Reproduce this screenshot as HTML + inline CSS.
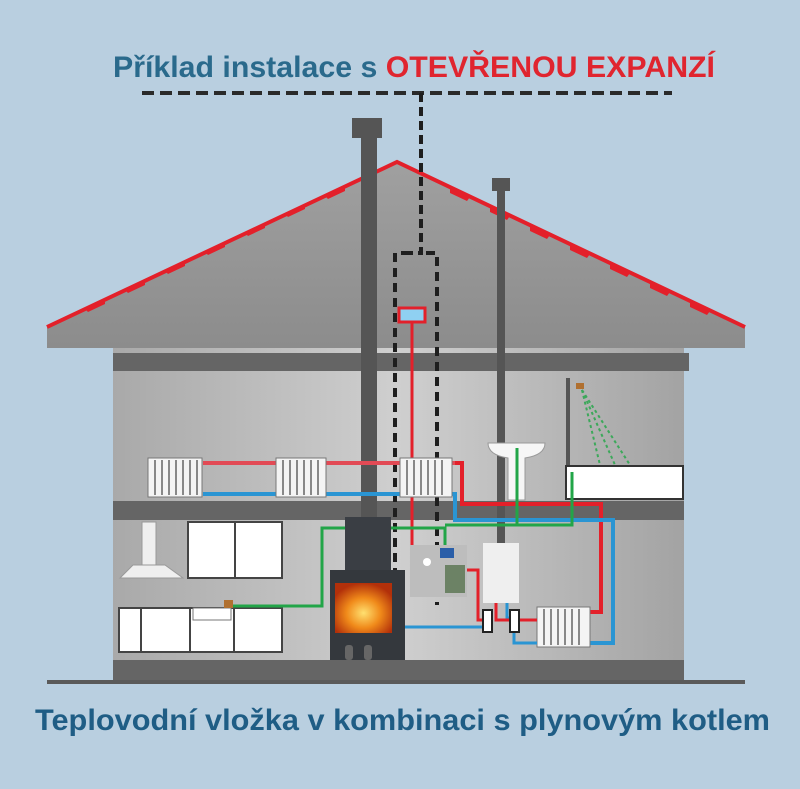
<!DOCTYPE html>
<html><head><meta charset="utf-8"><style>
html,body{margin:0;padding:0;background:#b9cfe0;}
svg{display:block;}
text{font-family:"Liberation Sans Narrow","Liberation Sans",sans-serif;font-weight:bold;}
</style></head><body>
<svg width="800" height="789" viewBox="0 0 800 789" xmlns="http://www.w3.org/2000/svg">
<defs>
<linearGradient id="wall" x1="0" y1="0" x2="1" y2="0">
<stop offset="0" stop-color="#a9a9a9"/><stop offset="0.5" stop-color="#cfcfcf"/><stop offset="1" stop-color="#a3a3a3"/>
</linearGradient>
<linearGradient id="roof" x1="0" y1="0" x2="0" y2="1">
<stop offset="0" stop-color="#a0a0a0"/><stop offset="1" stop-color="#8c8c8c"/>
</linearGradient>
<radialGradient id="fire" cx="0.5" cy="0.6" r="0.6">
<stop offset="0" stop-color="#ffe070"/><stop offset="0.5" stop-color="#f08a1a"/><stop offset="1" stop-color="#b2300a"/>
</radialGradient>
</defs>
<rect width="800" height="789" fill="#b9cfe0"/>
<text x="113" y="77" font-size="30" textLength="602" lengthAdjust="spacingAndGlyphs" fill="#2a6a8c">Příklad instalace s <tspan fill="#e0252f">OTEVŘENOU EXPANZÍ</tspan></text>
<line x1="142" y1="93" x2="672" y2="93" stroke="#2a2a2a" stroke-width="4" stroke-dasharray="12,6"/>
<polygon points="47,327 397,162 745,327 745,348 47,348" fill="url(#roof)"/>
<polyline points="47,327 397,162 745,327" fill="none" stroke="#e3202a" stroke-width="4"/>
<g fill="#e3202a">
<polygon points="85,309 105,299 105,304 88,312"/>
<polygon points="125,290 145,280 145,285 128,293"/>
<polygon points="165,271 185,261 185,266 168,274"/>
<polygon points="205,252 225,242 225,247 208,255"/>
<polygon points="245,233 265,223 265,228 248,236"/>
<polygon points="285,214 305,204 305,209 288,217"/>
<polygon points="325,196 345,186 345,191 328,199"/>
<polygon points="450,187 470,197 467,201 450,193"/>
<polygon points="490,206 510,216 507,220 490,212"/>
<polygon points="530,225 550,235 547,239 530,231"/>
<polygon points="570,244 590,254 587,258 570,250"/>
<polygon points="610,263 630,273 627,277 610,269"/>
<polygon points="650,282 670,292 667,296 650,288"/>
<polygon points="690,301 710,311 707,315 690,307"/>
</g>
<rect x="113" y="348" width="571" height="332" fill="url(#wall)"/>
<rect x="113" y="353" width="576" height="18" fill="#656565"/>
<rect x="113" y="501" width="571" height="19" fill="#656565"/>
<rect x="113" y="660" width="571" height="20" fill="#656565"/>
<rect x="47" y="680" width="698" height="4" fill="#5a5a5a"/>
<rect x="352" y="118" width="30" height="20" fill="#555"/>
<rect x="361" y="138" width="16" height="380" fill="#555"/>
<rect x="492" y="178" width="18" height="13" fill="#555"/>
<rect x="497" y="190" width="8" height="353" fill="#555"/>
<polyline points="421,93 421,253 408,253" fill="none" stroke="#1e1e1e" stroke-width="4" stroke-dasharray="9,5"/>
<polyline points="410,253 395,253 395,605" fill="none" stroke="#1e1e1e" stroke-width="4" stroke-dasharray="9,6"/>
<polyline points="426,253 437,253 437,605" fill="none" stroke="#1e1e1e" stroke-width="4" stroke-dasharray="9,6"/>
<rect x="399" y="308" width="26" height="14" fill="#8fd0f2" stroke="#e3202a" stroke-width="3"/>
<line x1="412" y1="322" x2="412" y2="545" stroke="#e3202a" stroke-width="3"/>
<line x1="203" y1="463" x2="462" y2="463" stroke="#e24a55" stroke-width="4"/>
<polyline points="455,463 462,463 462,504 601,504 601,612 590,612" fill="none" stroke="#e3202a" stroke-width="4"/>
<line x1="203" y1="494" x2="455" y2="494" stroke="#2a95d3" stroke-width="4"/>
<polyline points="452,494 455,494 455,520 613,520 613,643 590,643" fill="none" stroke="#2a95d3" stroke-width="4"/>
<g fill="#f4f4f4" stroke="#777" stroke-width="1">
<rect x="148" y="458" width="54" height="39"/>
<rect x="276" y="458" width="50" height="39"/>
<rect x="400" y="458" width="52" height="39"/>
<rect x="537" y="607" width="53" height="40"/>
</g>
<g stroke="#888" stroke-width="2">
<path d="M155 460v35M162 460v35M169 460v35M176 460v35M183 460v35M190 460v35M197 460v35"/>
<path d="M283 460v35M290 460v35M297 460v35M304 460v35M311 460v35M318 460v35"/>
<path d="M407 460v35M414 460v35M421 460v35M428 460v35M435 460v35M442 460v35"/>
<path d="M544 609v36M551 609v36M558 609v36M565 609v36M572 609v36M579 609v36"/>
</g>
<rect x="566" y="378" width="4" height="90" fill="#555"/>
<g stroke="#3ca85a" stroke-width="2" stroke-dasharray="3,3"><line x1="582" y1="390" x2="600" y2="465"/><line x1="582" y1="390" x2="615" y2="465"/><line x1="582" y1="390" x2="630" y2="465"/></g>
<rect x="576" y="383" width="8" height="6" fill="#b07030"/>
<path d="M488,443 h57 q0,12 -20,15 v42 h-17 v-42 q-20,-3 -20,-15z" fill="#f6f6f6" stroke="#999"/>
<rect x="566" y="466" width="117" height="33" fill="#fff" stroke="#333" stroke-width="2"/>
<polyline points="517,448 517,525 572,525 572,472" fill="none" stroke="#22a548" stroke-width="3"/>
<rect x="142" y="522" width="14" height="44" fill="#efefef" stroke="#999"/>
<polygon points="133,565 165,565 183,578 120,578" fill="#efefef" stroke="#999"/>
<rect x="188" y="522" width="94" height="56" fill="#fff" stroke="#444" stroke-width="2"/>
<line x1="235" y1="522" x2="235" y2="578" stroke="#444" stroke-width="2"/>
<rect x="119" y="608" width="163" height="44" fill="#fff" stroke="#444" stroke-width="2"/>
<path d="M141 608v44M190 608v44M234 608v44" stroke="#444" stroke-width="2"/>
<rect x="193" y="608" width="38" height="12" fill="#fff" stroke="#777"/>
<rect x="224" y="600" width="9" height="8" fill="#b07030"/>
<polyline points="233,606 322,606 322,528 445,528 445,545" fill="none" stroke="#22a548" stroke-width="3"/>
<line x1="445" y1="525" x2="517" y2="525" stroke="#22a548" stroke-width="3"/>
<rect x="345" y="517" width="46" height="55" fill="#3a3e44"/>
<rect x="330" y="570" width="75" height="90" fill="#34383d"/>
<rect x="335" y="583" width="57" height="50" fill="url(#fire)"/>
<rect x="345" y="645" width="8" height="15" fill="#666" rx="3"/>
<rect x="364" y="645" width="8" height="15" fill="#666" rx="3"/>
<rect x="410" y="545" width="57" height="52" fill="#bdbdbd"/>
<rect x="440" y="548" width="14" height="10" fill="#2a5ea8"/>
<rect x="445" y="565" width="20" height="28" fill="#4a6a40" opacity="0.7"/>
<circle cx="427" cy="562" r="4" fill="#fff"/>
<rect x="483" y="543" width="36" height="60" fill="#efefef"/>
<polyline points="405,627 486,627" fill="none" stroke="#2a95d3" stroke-width="3"/>
<polyline points="507,603 507,618 514,618 514,643 537,643" fill="none" stroke="#2a95d3" stroke-width="3"/>
<polyline points="467,570 478,570 478,620 486,620" fill="none" stroke="#e3202a" stroke-width="3"/>
<polyline points="496,603 496,620 537,620" fill="none" stroke="#e3202a" stroke-width="3"/>
<rect x="483" y="610" width="9" height="22" fill="#fff" stroke="#222" stroke-width="2"/>
<rect x="510" y="610" width="9" height="22" fill="#fff" stroke="#222" stroke-width="2"/>
<text x="35" y="730" font-size="30" textLength="735" lengthAdjust="spacingAndGlyphs" fill="#1f5d85">Teplovodní vložka v kombinaci s plynovým kotlem</text>
</svg>
</body></html>
